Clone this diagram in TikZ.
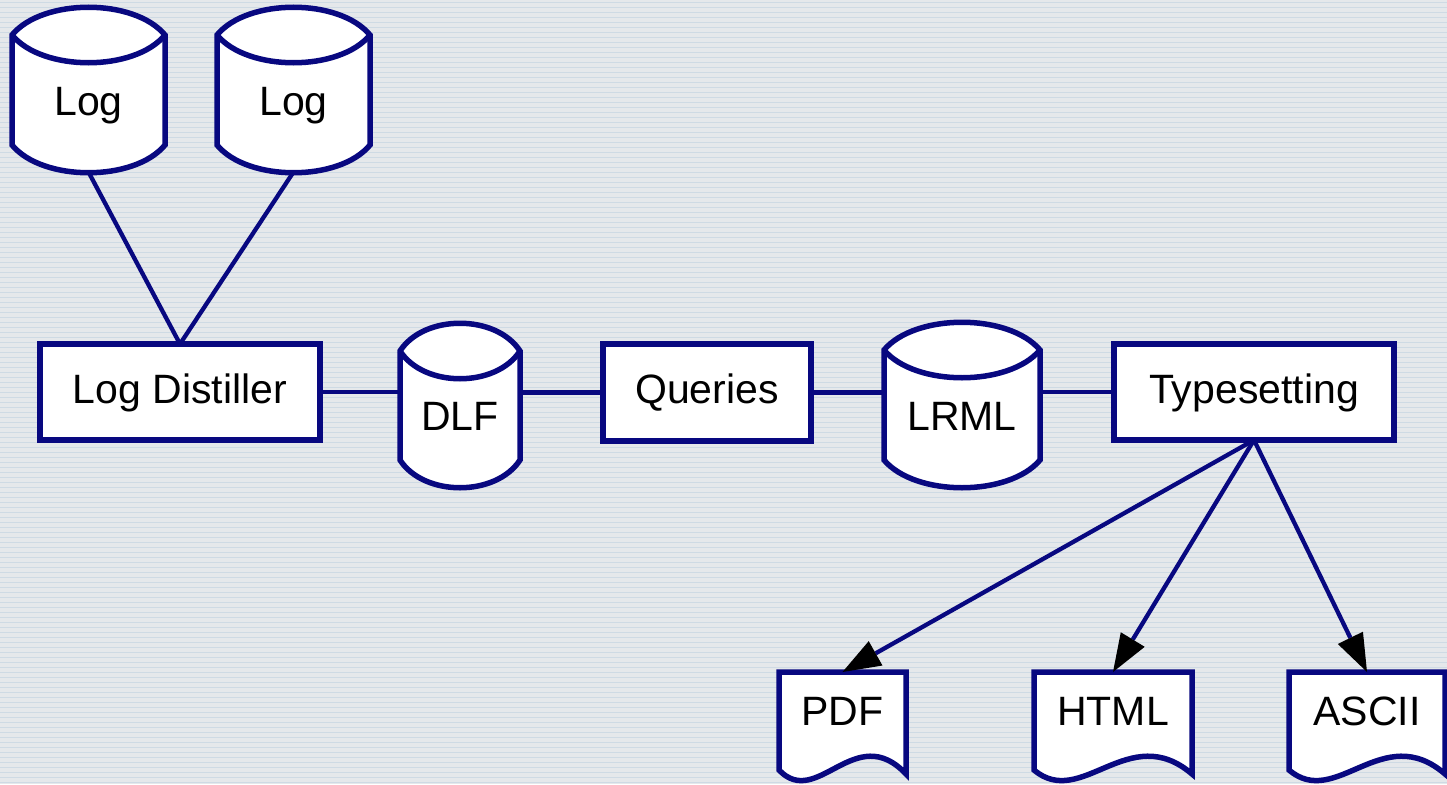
\documentclass[tikz,border=0pt]{standalone}
\usepackage{fontspec}
\setmainfont{Liberation Sans}
\usetikzlibrary{calc,arrows.meta}
\definecolor{navy}{RGB}{8,8,128}
\definecolor{bgbase}{RGB}{229,232,235}
\definecolor{bgline}{RGB}{206,218,228}
\tikzset{
  shapeline/.style={draw=navy, line width=5.5pt, fill=white},
  body/.style={draw=none, inner sep=0pt, outer sep=0pt},
  boxnode/.style={draw=navy, line width=5.5pt, fill=white, inner sep=0pt, outer sep=0pt,
     text height=29.5pt, text depth=7.5pt, font=\fontsize{41}{48}\selectfont},
  lbl/.style={inner sep=0pt, anchor=base, font=\fontsize{41}{48}\selectfont},
  conn/.style={draw=navy, line width=4.3pt},
  arr/.style={conn, -{Triangle[length=38pt 0 1, width=28pt 0 1, line width=0pt 0 0, color=black]}},
}
% #1 name, #2 L, #3 R, #4 T, #5 B
\newcommand{\mycyl}[5]{%
  \node[body, minimum width={(#3-#2)*1pt}, minimum height={(#5-#4)*1pt}] (#1) at ({(#2+#3)/2},{(#4+#5)/2}) {};
  \path[shapeline] (#2,#4)
     .. controls ({#2+0.2*(#3-#2)},{#4-37}) and ({#2+0.8*(#3-#2)},{#4-37}) .. (#3,#4)
     -- (#3,#5)
     .. controls ({#2+0.8*(#3-#2)},{#5+37}) and ({#2+0.2*(#3-#2)},{#5+37}) .. (#2,#5)
     -- cycle;
  \draw[draw=navy, line width=5.5pt] (#2,#4)
     .. controls ({#2+0.2*(#3-#2)},{#4+37}) and ({#2+0.8*(#3-#2)},{#4+37}) .. (#3,#4);
}
% #1 name, #2 L, #3 R, #4 T, #5 B (left bottom)
\newcommand{\mydoc}[5]{%
  \node[body, minimum width={(#3-#2)*1pt}, minimum height={(#5-#4)*1pt}] (#1) at ({(#2+#3)/2},{(#4+#5)/2}) {};
  \path[shapeline] (#2,#5) -- (#2,#4) -- (#3,#4) -- (#3,{#5+4})
     .. controls ({#2+0.6*(#3-#2)},{#5-50}) and ({#2+0.3*(#3-#2)},{#5+40}) .. (#2,#5)
     -- cycle;
}
\begin{document}
\begin{tikzpicture}[x=1pt,y=-1pt]
\useasboundingbox (0,0) rectangle (1447,784);
\fill[bgbase] (0,0) rectangle (1447,784);
\foreach \yy in {2.5,7.5,...,784} \draw[bgline, line width=1.6pt] (0,\yy) -- (1447,\yy);

% cylinders
\mycyl{log1}{12}{165}{35}{145}
\mycyl{log2}{217}{370}{35}{145}
\mycyl{dlf}{400}{520}{351}{460}
\mycyl{lrml}{884}{1040}{350}{460}
\node[lbl] (log1t) at (88.5,115) {Log};
\node[lbl] (log2t) at (293.5,115) {Log};
\node[lbl] (dlft) at (460,430) {DLF};
\node[lbl] (lrmlt) at (962,430) {LRML};

% boxes
\node[boxnode, minimum width=280pt, minimum height=96pt] (dist) at (180,392) {Log Distiller};
\node[boxnode, minimum width=208pt, minimum height=97pt] (qry) at (707,392.5) {Queries};
\node[boxnode, minimum width=280pt, minimum height=96pt] (ts) at (1254,392) {Typesetting};

% documents
\mydoc{pdf}{779}{906}{672}{770}
\mydoc{html}{1034}{1192}{672}{770}
\mydoc{ascii}{1289}{1445}{672}{770}
\node[lbl] (pdft) at (842.5,725) {PDF};
\node[lbl] (htmlt) at (1113,725) {HTML};
\node[lbl] (asciit) at (1367,725) {ASCII};

% connectors
\draw[conn] ($(log1.south)+(0,27)$) -- (dist.north);
\draw[conn] ($(log2.south)+(0,27)$) -- (dist.north);
\draw[conn] (dist.east) -- (dist.east -| dlf.west);
\draw[conn] (qry.west -| dlf.east) -- (qry.west);
\draw[conn] (qry.east) -- (qry.east -| lrml.west);
\draw[conn] (ts.west -| lrml.east) -- (ts.west);
\draw[arr] (ts.south) -- (pdf.north);
\draw[arr] (ts.south) -- (html.north);
\draw[arr] (ts.south) -- (ascii.north);
\end{tikzpicture}
\end{document}
